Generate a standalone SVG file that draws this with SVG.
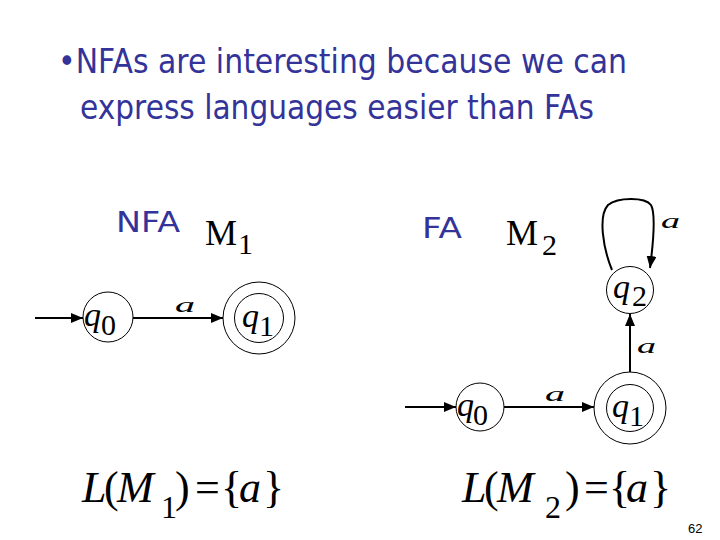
<svg xmlns="http://www.w3.org/2000/svg" width="720" height="540" viewBox="0 0 720 540">
<defs>
<marker id="ah" markerUnits="userSpaceOnUse" markerWidth="12" markerHeight="10" refX="12" refY="5" orient="auto">
<path d="M0,0 L12,5 L0,10 z" fill="#000"/>
</marker>
<style>
.st{fill:none;stroke:#000;stroke-width:1}
.ed{fill:none;stroke:#000;stroke-width:2;marker-end:url(#ah)}
.title{font-family:"DejaVu Sans","Liberation Sans",sans-serif;font-size:33px;fill:#333399}
.tag{font-family:"DejaVu Sans","Liberation Sans",sans-serif;font-size:29px;fill:#333399}
.q{font-family:"Liberation Serif",serif;font-style:italic;font-size:34px}
.d{font-family:"Liberation Serif",serif;font-size:30px}
.lb{font-family:"Liberation Serif",serif;font-style:italic;font-size:20px}
.m{font-family:"Liberation Serif",serif;font-size:36px}
.f{font-family:"Liberation Serif",serif;font-size:44px}
.fs{font-family:"Liberation Serif",serif;font-size:32px}
.it{font-style:italic}
.pg{font-family:"Liberation Sans",sans-serif;font-size:13px}
</style>
</defs>
<rect width="720" height="540" fill="#fff"/>
<g id="title">
<text class="title" x="58" y="73" textLength="569" lengthAdjust="spacingAndGlyphs">•NFAs are interesting because we can</text>
<text class="title" x="80" y="119" textLength="514" lengthAdjust="spacingAndGlyphs">express languages easier than FAs</text>
</g>
<g id="m1-label">
<text class="tag" x="116" y="232" textLength="64" lengthAdjust="spacingAndGlyphs">NFA</text>
<text class="m" x="205" y="245">M</text>
<text class="d" x="238" y="254">1</text>
</g>
<g id="m2-label">
<text class="tag" x="422" y="238" textLength="40" lengthAdjust="spacingAndGlyphs">FA</text>
<text class="m" x="506" y="245">M</text>
<text class="d" x="542" y="255">2</text>
</g>
<g id="connectors">
<line class="ed" x1="35" y1="318" x2="83" y2="318"/>
<line class="ed" x1="133" y1="318" x2="223" y2="318"/>
<line class="ed" x1="405" y1="407" x2="456" y2="407"/>
<line class="ed" x1="504" y1="407" x2="594" y2="407"/>
<line class="ed" x1="630" y1="372" x2="630" y2="314"/>
<path class="ed" d="M612,270 C603,248 598,216 608,205 C618,197 645,197 651,205 C656,214 653,245 650,268"/>
<text class="lb" x="175" y="312" textLength="20" lengthAdjust="spacingAndGlyphs">a</text>
<text class="lb" x="545" y="401" textLength="20" lengthAdjust="spacingAndGlyphs">a</text>
<text class="lb" x="637" y="353" textLength="19" lengthAdjust="spacingAndGlyphs">a</text>
<text class="lb" x="661" y="228" textLength="19" lengthAdjust="spacingAndGlyphs">a</text>
</g>
<g id="m1-q0">
<circle class="st" cx="108" cy="317" r="25"/>
<text class="q" x="84" y="326">q</text><text class="d" x="101" y="335">0</text>
</g>
<g id="m1-q1">
<circle class="st" cx="259" cy="318" r="36"/>
<circle class="st" cx="259" cy="318" r="24.5"/>
<text class="q" x="242" y="327">q</text><text class="d" x="259" y="336">1</text>
</g>
<g id="m2-q0">
<circle class="st" cx="480" cy="407" r="24"/>
<text class="q" x="457" y="416">q</text><text class="d" x="473" y="425">0</text>
</g>
<g id="m2-q1">
<circle class="st" cx="630" cy="408" r="36"/>
<circle class="st" cx="630" cy="408" r="23.5"/>
<text class="q" x="612" y="417">q</text><text class="d" x="629" y="426">1</text>
</g>
<g id="m2-q2">
<circle class="st" cx="630" cy="290" r="23.5"/>
<text class="q" x="613" y="298">q</text><text class="d" x="632" y="306">2</text>
</g>
<g id="formula1">
<text class="f it" x="82" y="502">L</text>
<text class="f" x="104" y="502">(</text>
<text class="f it" x="117" y="502">M</text>
<text class="fs" x="161" y="518">1</text>
<text class="f" x="175" y="502">)</text>
<text class="f" x="195" y="502">=</text>
<text class="f" x="221" y="502">{</text>
<text class="f it" x="239" y="502">a</text>
<text class="f" x="263" y="502">}</text>
</g>
<g id="formula2">
<text class="f it" x="462" y="502">L</text>
<text class="f" x="484" y="502">(</text>
<text class="f it" x="497" y="502">M</text>
<text class="fs" x="545" y="518">2</text>
<text class="f" x="565" y="502">)</text>
<text class="f" x="584" y="502">=</text>
<text class="f" x="609" y="502">{</text>
<text class="f it" x="626" y="502">a</text>
<text class="f" x="650" y="502">}</text>
</g>
<text class="pg" x="688" y="533">62</text>
</svg>
